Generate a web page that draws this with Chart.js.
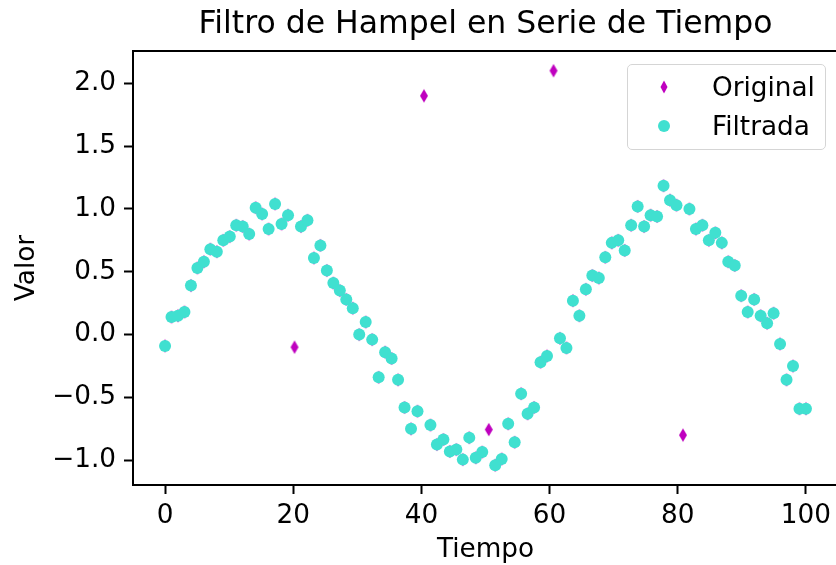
<!DOCTYPE html>
<html>
<head>
<meta charset="utf-8">
<script src="https://cdn.jsdelivr.net/npm/chart.js@4/dist/chart.umd.min.js"></script>
<style>
  html, body { margin: 0; padding: 0; background: #fff; overflow: hidden; }
  #wrap { position: relative; width: 840px; height: 565px; }
  #title {
    position: absolute; left: 133px; width: 705px; top: 4px; height: 44px;
    line-height: 44px; text-align: center;
    font: 31.5px "DejaVu Sans", sans-serif; color: #000;
  }
  #legend {
    position: absolute; left: 627px; top: 64px; width: 197px; height: 84px;
    border: 1.5px solid #d5d5d5; border-radius: 5px; background: rgba(255,255,255,0.8);
    font: 26.3px "DejaVu Sans", sans-serif; color: #000;
  }
  .row { position: absolute; left: 0; height: 32px; line-height: 32px; }
  .row svg { position: absolute; left: 28px; top: 8px; }
  .row span { position: absolute; left: 84px; white-space: nowrap; }
</style>
</head>
<body>
<div id="wrap">
  <canvas id="chart" width="840" height="565"></canvas>
  <div id="title">Filtro de Hampel en Serie de Tiempo</div>
  <div id="legend">
    <div class="row" style="top:6px">
      <svg width="16" height="16" viewBox="0 0 16 16"><polygon points="8,1.5 11.5,8 8,14.5 4.5,8" fill="#bf00bf"/></svg>
      <span>Original</span>
    </div>
    <div class="row" style="top:45px">
      <svg width="16" height="16" viewBox="0 0 16 16"><circle cx="8" cy="8" r="6" fill="#40e0d0"/></svg>
      <span>Filtrada</span>
    </div>
  </div>
</div>
<script>
// ============================================================
// DATA
// ============================================================
const tiempo = [
  0, 1.01, 2.02, 3.03, 4.04, 5.05, 6.06, 7.07, 8.08, 9.09,
  10.10, 11.11, 12.12, 13.13, 14.14, 15.15, 16.16, 17.17, 18.18, 19.19,
  20.20, 21.21, 22.22, 23.23, 24.24, 25.25, 26.26, 27.27, 28.28, 29.29,
  30.30, 31.31, 32.32, 33.33, 34.34, 35.35, 36.36, 37.37, 38.38, 39.39,
  40.40, 41.41, 42.42, 43.43, 44.44, 45.45, 46.46, 47.47, 48.48, 49.49,
  50.51, 51.52, 52.53, 53.54, 54.55, 55.56, 56.57, 57.58, 58.59, 59.60,
  60.61, 61.62, 62.63, 63.64, 64.65, 65.66, 66.67, 67.68, 68.69, 69.70,
  70.71, 71.72, 72.73, 73.74, 74.75, 75.76, 76.77, 77.78, 78.79, 79.80,
  80.81, 81.82, 82.83, 83.84, 84.85, 85.86, 86.87, 87.88, 88.89, 89.90,
  90.91, 91.92, 92.93, 93.94, 94.95, 95.96, 96.97, 97.98, 98.99, 100
];

const original = [
  -0.09, 0.14, 0.15, 0.18, 0.39, 0.53, 0.58, 0.68, 0.66, 0.75,
  0.78, 0.87, 0.86, 0.80, 1.01, 0.96, 0.84, 1.04, 0.88, 0.95,
  -0.10, 0.86, 0.91, 0.61, 0.71, 0.51, 0.41, 0.35, 0.28, 0.21,
  0.00, 0.10, -0.04, -0.34, -0.14, -0.19, -0.36, -0.58, -0.75, -0.61,
  1.90, -0.72, -0.875, -0.835, -0.93, -0.915, -0.995, -0.82, -0.98, -0.935,
  -0.756, -1.04, -0.99, -0.71, -0.857, -0.47, -0.63, -0.58, -0.22, -0.17,
  2.10, -0.03, -0.106, 0.27, 0.15, 0.36, 0.47, 0.45, 0.615, 0.73,
  0.75, 0.67, 0.87, 1.02, 0.86, 0.95, 0.94, 1.185, 1.07, 1.03,
  -0.80, 1.00, 0.84, 0.87, 0.75, 0.81, 0.73, 0.58, 0.55, 0.31,
  0.18, 0.28, 0.15, 0.09, 0.17, -0.074, -0.36, -0.25, -0.59, -0.59
];

// the filter leaves no value at the outlier positions
const filtrada = [
  -0.09, 0.14, 0.15, 0.18, 0.39, 0.53, 0.58, 0.68, 0.66, 0.75,
  0.78, 0.87, 0.86, 0.80, 1.01, 0.96, 0.84, 1.04, 0.88, 0.95,
  null, 0.86, 0.91, 0.61, 0.71, 0.51, 0.41, 0.35, 0.28, 0.21,
  0.00, 0.10, -0.04, -0.34, -0.14, -0.19, -0.36, -0.58, -0.75, -0.61,
  null, -0.72, -0.875, -0.835, -0.93, -0.915, -0.995, -0.82, -0.98, -0.935,
  null, -1.04, -0.99, -0.71, -0.857, -0.47, -0.63, -0.58, -0.22, -0.17,
  null, -0.03, -0.106, 0.27, 0.15, 0.36, 0.47, 0.45, 0.615, 0.73,
  0.75, 0.67, 0.87, 1.02, 0.86, 0.95, 0.94, 1.185, 1.07, 1.03,
  null, 1.00, 0.84, 0.87, 0.75, 0.81, 0.73, 0.58, 0.55, 0.31,
  0.18, 0.28, 0.15, 0.09, 0.17, -0.074, -0.36, -0.25, -0.59, -0.59
];

const xTicks = [0, 20, 40, 60, 80, 100];
const yTicks = [-1.0, -0.5, 0.0, 0.5, 1.0, 1.5, 2.0];

// ============================================================
// MARKERS / HELPERS
// ============================================================
// thin diamond marker like matplotlib 'd'
const diamond = document.createElement('canvas');
diamond.width = 10;
diamond.height = 15;
(function () {
  const c = diamond.getContext('2d');
  c.fillStyle = '#bf00bf';
  c.beginPath();
  c.moveTo(5, 0.8);
  c.lineTo(9, 7.5);
  c.lineTo(5, 14.2);
  c.lineTo(1, 7.5);
  c.closePath();
  c.fill();
})();

function toPoints(ys) {
  return tiempo.map(function (t, i) { return { x: t, y: ys[i] }; });
}

function fmtY(v) {
  return v < 0 ? '\u2212' + Math.abs(v).toFixed(1) : v.toFixed(1);
}

// top + right spines
const frame = {
  id: 'frame',
  afterDraw: function (chart) {
    const a = chart.chartArea, c = chart.ctx;
    c.save();
    c.strokeStyle = '#000';
    c.lineWidth = 2;
    c.beginPath();
    c.moveTo(a.left, a.top);
    c.lineTo(a.right, a.top);
    c.lineTo(a.right, a.bottom);
    c.stroke();
    c.restore();
  }
};

// ============================================================
// CHART
// ============================================================
Chart.defaults.font.family = "'DejaVu Sans', sans-serif";
Chart.defaults.color = '#000';

const tickFont = { size: 26.3 };

new Chart(document.getElementById('chart'), {
  type: 'scatter',
  data: {
    datasets: [
      {
        label: 'Original',
        data: toPoints(original),
        pointStyle: diamond,
        pointRadius: 6,
        order: 1,
      },
      {
        label: 'Filtrada',
        data: toPoints(filtrada),
        pointStyle: 'circle',
        pointRadius: 6,
        borderWidth: 0,
        backgroundColor: '#40e0d0',
        borderColor: '#40e0d0',
        order: 0,
      },
    ]
  },
  options: {
    responsive: false,
    animation: false,
    layout: { autoPadding: false, padding: { top: 51, right: 2, bottom: 0, left: 0 } },
    plugins: {
      legend: { display: false },
      tooltip: { enabled: false },
      title: { display: false },
    },
    scales: {
      x: {
        type: 'linear',
        min: -5,
        max: 105,
        afterBuildTicks: function (s) { s.ticks = xTicks.map(function (v) { return { value: v }; }); },
        afterFit: function (s) {
          s.height = 80;
          s.paddingLeft = 0;
          s.paddingRight = 0;
        },
        ticks: {
          font: tickFont,
          padding: 6,
          maxRotation: 0,
          callback: function (v) { return String(v); },
        },
        grid: { drawOnChartArea: false, drawTicks: true, tickLength: 9, tickWidth: 2, tickColor: '#000' },
        border: { display: true, color: '#000', width: 2 },
        title: { display: true, text: 'Tiempo', font: { size: 26.3, lineHeight: 1.1 }, padding: { top: 0, bottom: 0 } },
      },
      y: {
        type: 'linear',
        min: -1.197,
        max: 2.257,
        afterBuildTicks: function (s) { s.ticks = yTicks.map(function (v) { return { value: v }; }); },
        afterFit: function (s) { s.width = 133; },
        ticks: {
          font: tickFont,
          padding: 8,
          callback: fmtY,
        },
        grid: { drawOnChartArea: false, drawTicks: true, tickLength: 9, tickWidth: 2, tickColor: '#000' },
        border: { display: true, color: '#000', width: 2 },
        title: { display: true, text: 'Valor', font: tickFont, padding: { top: 11, bottom: 0 } },
      },
    },
  },
  plugins: [frame],
});
</script>
</body>
</html>
